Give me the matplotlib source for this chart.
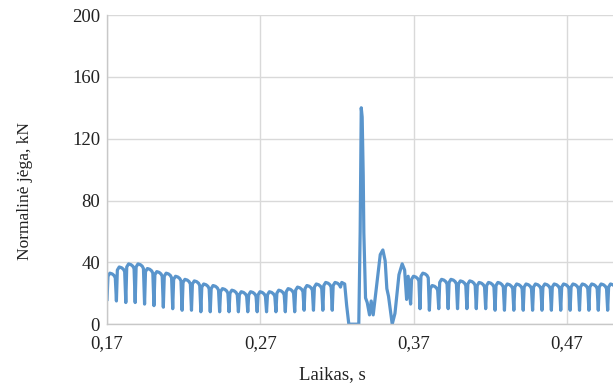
import numpy as np
import matplotlib
matplotlib.use("Agg")
import matplotlib.pyplot as plt

plt.rcParams['font.family'] = ['Liberation Serif', 'DejaVu Serif']

# ciklo trukme (pervaziavimas per pabegius), s
period = 0.00612

# pries smugi: ciklu virsunes ir duobes, kN
pre_start = 0.170
pre_tops = [33, 37, 39, 39, 36, 34, 33, 31, 29, 28, 26, 25, 23, 22, 21,
            21, 21, 21, 22, 23, 24, 25, 26, 27, 27]
pre_dips = [16, 15, 14, 14, 13, 12, 11, 10, 9, 9, 8, 8, 8, 8, 8,
            8, 8, 8, 8, 8, 8, 9, 9, 9, 9]

# smugio zona
hit_t = [0.3231, 0.3250, 0.3263, 0.3277, 0.3342, 0.3351, 0.3358, 0.3364,
         0.3371, 0.3375, 0.3386, 0.3397, 0.3412, 0.3423, 0.3436, 0.3456,
         0.3482, 0.3499, 0.3514, 0.3525, 0.3536, 0.3560, 0.3578, 0.3604,
         0.3625, 0.3641, 0.3654, 0.3664]
hit_f = [27, 26, 12, 0, 0, 60, 140, 134, 96, 59, 17, 14, 6, 15, 6, 23,
         45, 48, 41, 23, 18, 0, 7, 32, 39, 35, 16, 31]

# po smugio
post_start = 0.3680
post_tops = [31, 33, 25, 29, 29, 28, 28, 27, 27, 27, 26, 26, 26, 26, 26,
             26, 26, 26, 26, 26, 26, 26]
post_dips = [13, 10, 9, 10, 10, 10, 10, 10, 10, 9, 9, 9, 9, 9, 9,
             9, 9, 9, 9, 9, 9, 9]


def teeth(t0, tops, dips):
    # kiekvienas ciklas: arka nuo duobes iki duobes
    t, f = [], []
    for i, (hi, lo) in enumerate(zip(tops, dips)):
        s = t0 + i * period
        t += [s, s + 0.1 * period, s + 0.3 * period, s + 0.55 * period,
              s + 0.75 * period, s + 0.88 * period]
        f += [lo, hi - 2, hi, hi - 0.5, hi - 1.5, hi - 3]
    return t, f


t1, f1 = teeth(pre_start, pre_tops, pre_dips)
t3, f3 = teeth(post_start, post_tops, post_dips)
t = np.array(t1 + hit_t + t3)
f = np.array(f1 + hit_f + f3)

fig = plt.figure(figsize=(6.13, 3.85), dpi=100)
ax = fig.add_axes([0.1746, 0.158, 0.8254, 0.803])

ax.plot(t, f, color='#5a95cc', lw=2.3, solid_joinstyle='round')

ax.set_xlim(0.17, 0.50)
ax.set_ylim(0, 200)
ax.set_xticks([0.17, 0.27, 0.37, 0.47])
ax.set_xticklabels(['0,17', '0,27', '0,37', '0,47'])
ax.set_yticks([0, 40, 80, 120, 160, 200])
ax.tick_params(length=0, labelsize=13.5, colors='#222222')
ax.tick_params(axis='y', pad=5)
ax.tick_params(axis='x', pad=8)

ax.grid(True, color='#d9d9d9', lw=1.0)
ax.set_axisbelow(True)
for side in ['top', 'right']:
    ax.spines[side].set_visible(False)
for side in ['left', 'bottom']:
    ax.spines[side].set_color('#c8c8c8')
    ax.spines[side].set_linewidth(1.0)

fig.text(0.543, 0.026, 'Laikas, s', ha='center', va='center', fontsize=13.5,
         color='#222222')
fig.text(0.041, 0.505, 'Normalinė jėga, kN', ha='center', va='center',
         rotation=90, fontsize=12.5, color='#222222')

fig.savefig('out.png', dpi=100)
